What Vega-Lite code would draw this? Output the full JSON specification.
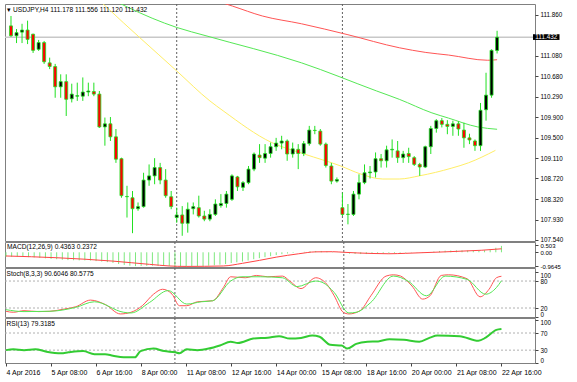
{
  "$schema": "https://vega.github.io/schema/vega-lite/v6.json",
  "padding": {"left": 3, "top": 3, "right": 0, "bottom": 0},
  "bounds": "flush",
  "spacing": 1,
  "background": "white",
  "config": {
    "font": "Liberation Sans",
    "view": {"stroke": "#808080", "strokeWidth": 1},
    "axis": {"labelFont": "Liberation Sans", "labelFontSize": 6.3, "labelColor": "#000", "tickColor": "#444", "tickSize": 3, "domain": false, "grid": false, "title": null, "labelPadding": 2, "labelOverlap": false, "labelFlush": false},
    "title": {"font": "Liberation Sans", "fontSize": 6.6, "fontWeight": "normal", "color": "#000", "anchor": "start", "offset": -10}
  },
  "datasets": {
    "candles": [
      {"i":0,"o":111.65,"h":111.84,"l":111.44,"c":111.46},
      {"i":1,"o":111.46,"h":111.59,"l":111.32,"c":111.52},
      {"i":2,"o":111.53,"h":111.69,"l":111.32,"c":111.57},
      {"i":3,"o":111.57,"h":111.75,"l":111.30,"c":111.39},
      {"i":4,"o":111.49,"h":111.50,"l":111.13,"c":111.18},
      {"i":5,"o":111.20,"h":111.38,"l":111.17,"c":111.33},
      {"i":6,"o":111.33,"h":111.36,"l":110.92,"c":110.96},
      {"i":7,"o":110.94,"h":111.04,"l":110.82,"c":110.87},
      {"i":8,"o":110.87,"h":110.92,"l":110.27,"c":110.48},
      {"i":9,"o":110.48,"h":110.72,"l":110.27,"c":110.58},
      {"i":10,"o":110.58,"h":110.72,"l":109.92,"c":110.24},
      {"i":11,"o":110.25,"h":110.54,"l":110.18,"c":110.34},
      {"i":12,"o":110.30,"h":110.56,"l":110.21,"c":110.31},
      {"i":13,"o":110.30,"h":110.66,"l":110.21,"c":110.38},
      {"i":14,"o":110.38,"h":110.56,"l":110.30,"c":110.40},
      {"i":15,"o":110.39,"h":110.56,"l":110.30,"c":110.34},
      {"i":16,"o":110.34,"h":110.40,"l":109.69,"c":109.71},
      {"i":17,"o":109.71,"h":109.89,"l":109.35,"c":109.77},
      {"i":18,"o":109.77,"h":109.90,"l":109.44,"c":109.52},
      {"i":19,"o":109.52,"h":109.67,"l":109.02,"c":109.09},
      {"i":20,"o":109.10,"h":109.12,"l":108.35,"c":108.39},
      {"i":21,"o":108.37,"h":108.58,"l":107.97,"c":108.375},
      {"i":22,"o":108.35,"h":108.48,"l":107.67,"c":108.14},
      {"i":23,"o":108.14,"h":108.26,"l":108.10,"c":108.18},
      {"i":24,"o":108.18,"h":108.83,"l":108.16,"c":108.69},
      {"i":25,"o":108.69,"h":108.99,"l":108.58,"c":108.77},
      {"i":26,"o":108.77,"h":109.11,"l":108.61,"c":108.93},
      {"i":27,"o":108.93,"h":109.02,"l":108.61,"c":108.69},
      {"i":28,"o":108.69,"h":108.90,"l":108.35,"c":108.39},
      {"i":29,"o":108.37,"h":108.48,"l":108.13,"c":108.18},
      {"i":30,"o":107.97,"h":108.16,"l":107.87,"c":108.02},
      {"i":31,"o":108.02,"h":108.19,"l":107.62,"c":107.86},
      {"i":32,"o":107.86,"h":108.26,"l":107.68,"c":108.13},
      {"i":33,"o":108.14,"h":108.26,"l":108.03,"c":108.18},
      {"i":34,"o":108.16,"h":108.39,"l":107.97,"c":108.00},
      {"i":35,"o":108.00,"h":108.10,"l":107.90,"c":107.94},
      {"i":36,"o":107.94,"h":108.13,"l":107.90,"c":108.03},
      {"i":37,"o":108.03,"h":108.32,"l":108.00,"c":108.23},
      {"i":38,"o":108.20,"h":108.42,"l":108.16,"c":108.24},
      {"i":39,"o":108.24,"h":108.48,"l":108.16,"c":108.42},
      {"i":40,"o":108.32,"h":108.80,"l":108.29,"c":108.77},
      {"i":41,"o":108.75,"h":108.77,"l":108.48,"c":108.56},
      {"i":42,"o":108.55,"h":108.67,"l":108.48,"c":108.64},
      {"i":43,"o":108.64,"h":108.96,"l":108.61,"c":108.90},
      {"i":44,"o":108.90,"h":109.22,"l":108.86,"c":109.19},
      {"i":45,"o":109.17,"h":109.38,"l":109.02,"c":109.12},
      {"i":46,"o":109.11,"h":109.38,"l":109.02,"c":109.20},
      {"i":47,"o":109.20,"h":109.41,"l":109.12,"c":109.33},
      {"i":48,"o":109.33,"h":109.50,"l":109.25,"c":109.40},
      {"i":49,"o":109.40,"h":109.54,"l":109.28,"c":109.44},
      {"i":50,"o":109.44,"h":109.47,"l":109.06,"c":109.19},
      {"i":51,"o":109.19,"h":109.41,"l":109.12,"c":109.29},
      {"i":52,"o":109.28,"h":109.38,"l":108.90,"c":109.20},
      {"i":53,"o":109.20,"h":109.44,"l":109.15,"c":109.39},
      {"i":54,"o":109.39,"h":109.73,"l":109.35,"c":109.65},
      {"i":55,"o":109.645,"h":109.73,"l":109.57,"c":109.64},
      {"i":56,"o":109.63,"h":109.67,"l":109.35,"c":109.38},
      {"i":57,"o":109.38,"h":109.41,"l":108.93,"c":108.97},
      {"i":58,"o":108.96,"h":109.02,"l":108.61,"c":108.67},
      {"i":59,"o":108.67,"h":108.74,"l":108.64,"c":108.70},
      {"i":60,"o":108.16,"h":108.45,"l":108.00,"c":108.03},
      {"i":61,"o":108.03,"h":108.23,"l":107.84,"c":108.035},
      {"i":62,"o":108.03,"h":108.48,"l":108.00,"c":108.42},
      {"i":63,"o":108.42,"h":108.80,"l":108.32,"c":108.64},
      {"i":64,"o":108.64,"h":108.99,"l":108.61,"c":108.83},
      {"i":65,"o":108.83,"h":108.96,"l":108.72,"c":108.845},
      {"i":66,"o":108.845,"h":109.22,"l":108.74,"c":109.10},
      {"i":67,"o":109.10,"h":109.19,"l":108.93,"c":109.06},
      {"i":68,"o":109.06,"h":109.35,"l":108.93,"c":109.27},
      {"i":69,"o":109.27,"h":109.47,"l":109.12,"c":109.28},
      {"i":70,"o":109.25,"h":109.44,"l":109.02,"c":109.12},
      {"i":71,"o":109.12,"h":109.25,"l":109.02,"c":109.19},
      {"i":72,"o":109.20,"h":109.31,"l":109.02,"c":109.14},
      {"i":73,"o":109.12,"h":109.15,"l":108.96,"c":108.99},
      {"i":74,"o":108.99,"h":109.02,"l":108.77,"c":108.94},
      {"i":75,"o":108.94,"h":109.35,"l":108.92,"c":109.33},
      {"i":76,"o":109.33,"h":109.73,"l":109.19,"c":109.68},
      {"i":77,"o":109.68,"h":109.86,"l":109.60,"c":109.83},
      {"i":78,"o":109.83,"h":109.88,"l":109.70,"c":109.76},
      {"i":79,"o":109.76,"h":109.84,"l":109.57,"c":109.72},
      {"i":80,"o":109.72,"h":109.83,"l":109.54,"c":109.77},
      {"i":81,"o":109.77,"h":109.82,"l":109.54,"c":109.67},
      {"i":82,"o":109.65,"h":109.79,"l":109.31,"c":109.50},
      {"i":83,"o":109.50,"h":109.58,"l":109.38,"c":109.46},
      {"i":84,"o":109.44,"h":109.47,"l":109.25,"c":109.35},
      {"i":85,"o":109.35,"h":110.17,"l":109.25,"c":110.03},
      {"i":86,"o":110.04,"h":110.75,"l":109.83,"c":110.32},
      {"i":87,"o":110.32,"h":111.20,"l":110.27,"c":111.18},
      {"i":88,"o":111.178,"h":111.556,"l":111.120,"c":111.432}
    ],
    "ma": [
      {"s":"ma200","i":37.5,"v":112.12},{"s":"ma200","i":40.1,"v":112.03},{"s":"ma200","i":45.5,"v":111.84},{"s":"ma200","i":52.6,"v":111.69},{"s":"ma200","i":61,"v":111.48},{"s":"ma200","i":70.3,"v":111.23},{"s":"ma200","i":75.1,"v":111.14},{"s":"ma200","i":79.2,"v":111.09},{"s":"ma200","i":86.3,"v":110.99},{"s":"ma200","i":88,"v":111.0},
      {"s":"ma100","i":19,"v":112.12},{"s":"ma100","i":21.1,"v":112.01},{"s":"ma100","i":30,"v":111.62},{"s":"ma100","i":35.3,"v":111.46},{"s":"ma100","i":52.6,"v":110.94},{"s":"ma100","i":66.2,"v":110.40},{"s":"ma100","i":70.3,"v":110.24},{"s":"ma100","i":76.2,"v":109.98},{"s":"ma100","i":79.2,"v":109.88},{"s":"ma100","i":84.5,"v":109.71},{"s":"ma100","i":88,"v":109.665},
      {"s":"ma50","i":16.2,"v":112.12},{"s":"ma50","i":17.1,"v":112.03},{"s":"ma50","i":30,"v":110.785},{"s":"ma50","i":36,"v":110.21},{"s":"ma50","i":38.4,"v":110.02},{"s":"ma50","i":47.2,"v":109.41},{"s":"ma50","i":53.1,"v":109.19},{"s":"ma50","i":59.7,"v":108.96},{"s":"ma50","i":63.2,"v":108.81},{"s":"ma50","i":67.3,"v":108.71},{"s":"ma50","i":70.3,"v":108.71},{"s":"ma50","i":73.9,"v":108.77},{"s":"ma50","i":79.8,"v":108.92},{"s":"ma50","i":82.8,"v":109.02},{"s":"ma50","i":87.7,"v":109.26}
    ],
    "macd": [
      {"i":0,"m":-0.30},{"i":1,"m":-0.30},{"i":2,"m":-0.29},{"i":3,"m":-0.30},{"i":4,"m":-0.33},{"i":5,"m":-0.35},{"i":6,"m":-0.38},{"i":7,"m":-0.41},{"i":8,"m":-0.45},{"i":9,"m":-0.47},
      {"i":10,"m":-0.51},{"i":11,"m":-0.53},{"i":12,"m":-0.54},{"i":13,"m":-0.55},{"i":14,"m":-0.55},{"i":15,"m":-0.56},{"i":16,"m":-0.60},{"i":17,"m":-0.63},{"i":18,"m":-0.67},{"i":19,"m":-0.72},
      {"i":20,"m":-0.80},{"i":21,"m":-0.86},{"i":22,"m":-0.91},{"i":23,"m":-0.94},{"i":24,"m":-0.93},{"i":25,"m":-0.92},{"i":26,"m":-0.91},{"i":27,"m":-0.90},{"i":28,"m":-0.91},{"i":29,"m":-0.93},
      {"i":30,"m":-0.95},{"i":31,"m":-0.9645},{"i":32,"m":-0.96},{"i":33,"m":-0.95},{"i":34,"m":-0.94},{"i":35,"m":-0.93},{"i":36,"m":-0.91},{"i":37,"m":-0.88},{"i":38,"m":-0.84},{"i":39,"m":-0.80},
      {"i":40,"m":-0.73},{"i":41,"m":-0.68},{"i":42,"m":-0.63},{"i":43,"m":-0.56},{"i":44,"m":-0.47},{"i":45,"m":-0.40},{"i":46,"m":-0.33},{"i":47,"m":-0.26},{"i":48,"m":-0.19},{"i":49,"m":-0.13},
      {"i":50,"m":-0.08},{"i":51,"m":-0.04},{"i":52,"m":0.00},{"i":53,"m":0.03},{"i":54,"m":0.07},{"i":55,"m":0.09},{"i":56,"m":0.09},{"i":57,"m":0.06},{"i":58,"m":0.02},{"i":59,"m":-0.01},
      {"i":60,"m":-0.05},{"i":61,"m":-0.09},{"i":62,"m":-0.11},{"i":63,"m":-0.12},{"i":64,"m":-0.12},{"i":65,"m":-0.11},{"i":66,"m":-0.09},{"i":67,"m":-0.08},{"i":68,"m":-0.06},{"i":69,"m":-0.05},
      {"i":70,"m":-0.04},{"i":71,"m":-0.03},{"i":72,"m":-0.02},{"i":73,"m":-0.02},{"i":74,"m":-0.02},{"i":75,"m":0.01},{"i":76,"m":0.05},{"i":77,"m":0.09},{"i":78,"m":0.11},{"i":79,"m":0.12},
      {"i":80,"m":0.13},{"i":81,"m":0.13},{"i":82,"m":0.12},{"i":83,"m":0.11},{"i":84,"m":0.09},{"i":85,"m":0.14},{"i":86,"m":0.19},{"i":87,"m":0.31},{"i":88,"m":0.4363}
    ],
    "macdsig": [
      {"i":0,"v":-0.25},{"i":9,"v":-0.37},{"i":19,"v":-0.6},{"i":25.5,"v":-0.82},{"i":29,"v":-0.93},{"i":32,"v":-0.96},{"i":38.6,"v":-0.93},{"i":42,"v":-0.75},{"i":45,"v":-0.55},{"i":48,"v":-0.33},{"i":52,"v":-0.1},{"i":55,"v":0.03},{"i":58,"v":0.04},{"i":60,"v":0.0},{"i":65,"v":-0.08},{"i":68,"v":-0.1},{"i":71,"v":-0.07},{"i":78,"v":0.03},{"i":81,"v":0.08},{"i":84.5,"v":0.14},{"i":88,"v":0.2372}
    ],
    "stoch": [
      {"s":"main","i":0,"v":12.7},{"s":"main","i":1.3,"v":10.5},{"s":"main","i":3.2,"v":14.1},{"s":"main","i":5.8,"v":12},{"s":"main","i":7.8,"v":12.7},{"s":"main","i":10.4,"v":17.8},{"s":"main","i":12.4,"v":22.9},{"s":"main","i":15,"v":37.6},{"s":"main","i":17.7,"v":27.3},{"s":"main","i":20.3,"v":6.8},{"s":"main","i":22.2,"v":10.5},{"s":"main","i":24.2,"v":25.1},{"s":"main","i":26.2,"v":50.7},{"s":"main","i":27.8,"v":61.7},{"s":"main","i":29.5,"v":50.7},{"s":"main","i":30.8,"v":25.1},{"s":"main","i":32.1,"v":25.1},{"s":"main","i":34,"v":33.9},{"s":"main","i":36.7,"v":36.1},{"s":"main","i":38.6,"v":65.4},{"s":"main","i":39.9,"v":89.5},{"s":"main","i":42.5,"v":87.3},{"s":"main","i":44.5,"v":92.4},{"s":"main","i":46.5,"v":89.5},{"s":"main","i":49.1,"v":91},{"s":"main","i":50.4,"v":80},{"s":"main","i":52.4,"v":63.2},{"s":"main","i":55,"v":87.3},{"s":"main","i":57,"v":72.7},{"s":"main","i":58.3,"v":47.1},{"s":"main","i":59.9,"v":10.5},{"s":"main","i":60.9,"v":6.8},{"s":"main","i":62.9,"v":14.1},{"s":"main","i":64.8,"v":47.1},{"s":"main","i":67.5,"v":91},{"s":"main","i":68.8,"v":93.9},{"s":"main","i":70.1,"v":91},{"s":"main","i":72.1,"v":69},{"s":"main","i":74,"v":39.8},{"s":"main","i":75.3,"v":47.1},{"s":"main","i":77.3,"v":92.4},{"s":"main","i":78.6,"v":93.9},{"s":"main","i":81.9,"v":85.1},{"s":"main","i":84.2,"v":44.9},{"s":"main","i":85.8,"v":61.7},{"s":"main","i":87.1,"v":87.3},{"s":"main","i":88,"v":90.6046},
      {"s":"signal","i":0,"v":16.3},{"s":"signal","i":3.2,"v":12},{"s":"signal","i":7.8,"v":12.7},{"s":"signal","i":12.4,"v":21.5},{"s":"signal","i":15.7,"v":33.9},{"s":"signal","i":20.9,"v":10.5},{"s":"signal","i":22.2,"v":9},{"s":"signal","i":25.5,"v":32.4},{"s":"signal","i":28.8,"v":58.8},{"s":"signal","i":32.1,"v":28.8},{"s":"signal","i":34.7,"v":33.9},{"s":"signal","i":36.7,"v":36.1},{"s":"signal","i":39.9,"v":80},{"s":"signal","i":41.9,"v":89.5},{"s":"signal","i":45.2,"v":89.5},{"s":"signal","i":49.1,"v":87.3},{"s":"signal","i":51.7,"v":67.6},{"s":"signal","i":55,"v":80},{"s":"signal","i":56.3,"v":76.3},{"s":"signal","i":58.3,"v":54.4},{"s":"signal","i":60.9,"v":9},{"s":"signal","i":62.2,"v":10.5},{"s":"signal","i":64.8,"v":32.4},{"s":"signal","i":68.8,"v":91},{"s":"signal","i":71.4,"v":80},{"s":"signal","i":74.7,"v":47.1},{"s":"signal","i":78,"v":91},{"s":"signal","i":81.9,"v":83.7},{"s":"signal","i":85.2,"v":50.7},{"s":"signal","i":87.1,"v":65.4},{"s":"signal","i":88,"v":80.5775}
    ],
    "rsi": [
      {"i":0,"v":30},{"i":1.3,"v":32.2},{"i":3.2,"v":30},{"i":5.2,"v":32.2},{"i":7.2,"v":26.4},{"i":9.8,"v":22.7},{"i":11.1,"v":24.9},{"i":13.7,"v":27.8},{"i":15.7,"v":20.5},{"i":17.6,"v":20.5},{"i":19,"v":16.9},{"i":20.9,"v":13.3},{"i":22.9,"v":13.3},{"i":23.9,"v":27.8},{"i":26.2,"v":33.6},{"i":28.1,"v":27.8},{"i":30.1,"v":24.9},{"i":30.8,"v":22.7},{"i":32.1,"v":32.2},{"i":34,"v":30},{"i":36,"v":33.6},{"i":38,"v":40.9},{"i":39.9,"v":49.6},{"i":41.2,"v":46.7},{"i":43.9,"v":56.9},{"i":46.5,"v":59.1},{"i":48.5,"v":62.7},{"i":50.4,"v":56.9},{"i":52.4,"v":58.4},{"i":54.4,"v":64.2},{"i":55.7,"v":61.3},{"i":57.6,"v":42.4},{"i":59.6,"v":40.9},{"i":60.6,"v":33.6},{"i":62.2,"v":44.5},{"i":64.2,"v":49.6},{"i":66.1,"v":50.4},{"i":68.1,"v":55.5},{"i":70.7,"v":54},{"i":73.4,"v":49.6},{"i":75.3,"v":59.1},{"i":76.6,"v":64.2},{"i":80.6,"v":62.7},{"i":83.9,"v":51.8},{"i":85.2,"v":59.1},{"i":87.1,"v":77.3},{"i":88,"v":79.3185}
    ],
    "seps": [{"i":30},{"i":60}]
  },
  "vconcat": [
    {
      "width": 530, "height": 237,
      "title": {"text": "▾ USDJPY,H4  111.178 111.556 111.120 111.432", "dx": 3},
      "layer": [
        {"data": {"values": [{"p": 111.432}]}, "mark": {"type": "rule", "color": "#c8c8c8", "strokeWidth": 1.5},
         "encoding": {"y": {"field": "p", "type": "quantitative", "scale": {"domain": [107.52, 112.07], "nice": false, "zero": false}, "axis": {"orient": "right", "tickCount": 50, "values": [111.86,111.08,110.68,110.29,109.90,109.50,109.11,108.72,108.32,107.93,107.54], "format": ".3f"}}}},
        {"data": {"name": "seps"}, "mark": {"type": "rule", "color": "#606060", "strokeDash": [2,2], "strokeWidth": 1},
         "encoding": {"x": {"field": "i", "type": "quantitative", "scale": {"domain": [-0.18, 93.96], "nice": false, "zero": false}, "axis": null}}},
        {"data": {"name": "ma"}, "mark": {"type": "line", "clip": true, "strokeWidth": 1, "interpolate": "monotone"},
         "encoding": {"x": {"field": "i", "type": "quantitative"}, "y": {"field": "v", "type": "quantitative"},
           "color": {"field": "s", "type": "nominal", "scale": {"domain": ["ma200","ma100","ma50"], "range": ["#ff5555","#55e855","#ffee66"]}, "legend": null}}},
        {"data": {"name": "candles"}, "mark": {"type": "rule", "color": "#22e022", "strokeWidth": 1},
         "encoding": {"x": {"field": "i", "type": "quantitative"}, "y": {"field": "l", "type": "quantitative"}, "y2": {"field": "h"}}},
        {"data": {"name": "candles"}, "mark": {"type": "bar", "orient": "vertical", "size": 3, "stroke": "#22e022", "strokeWidth": 0.8},
         "encoding": {"x": {"field": "i", "type": "quantitative"}, "y": {"field": "o", "type": "quantitative"}, "y2": {"field": "c"},
           "fill": {"condition": {"test": "datum.c >= datum.o", "value": "#000000"}, "value": "#ff0000"}}},
        {"data": {"values": [{"p": 111.432}]}, "mark": {"type": "rect", "color": "#000000", "clip": false},
         "encoding": {"x": {"datum": 94.5}, "x2": {"datum": 99.3}, "y": {"datum": 111.49}, "y2": {"datum": 111.38}}},
        {"data": {"values": [{"p": 111.432}]}, "mark": {"type": "text", "color": "#ffffff", "clip": false, "fontSize": 6.3, "align": "center", "baseline": "middle"},
         "encoding": {"x": {"datum": 96.9}, "y": {"field": "p", "type": "quantitative"}, "text": {"field": "p", "type": "quantitative", "format": ".3f"}}}
      ]
    },
    {
      "width": 530, "height": 25,
      "title": {"text": "MACD(12,26,9) 0.4363 0.2372", "dx": 2, "offset": -9},
      "layer": [
        {"data": {"name": "seps"}, "mark": {"type": "rule", "color": "#606060", "strokeDash": [2,2]},
         "encoding": {"x": {"field": "i", "type": "quantitative", "scale": {"domain": [-0.18, 93.96], "nice": false, "zero": false}, "axis": null}}},
        {"data": {"name": "macd"}, "mark": {"type": "rule", "color": "#7ee87e", "strokeWidth": 1},
         "encoding": {"x": {"field": "i", "type": "quantitative"}, "y": {"field": "m", "type": "quantitative", "scale": {"domain": [-1.0, 0.7], "nice": false, "zero": false},
           "axis": {"orient": "right", "tickCount": 50, "values": [0.503, 0, -0.9645], "labelFontSize": 6, "labelExpr": "datum.value == 0 ? '0.00' : (datum.value > 0 ? '0.503' : '-0.9645')", "labelOffset": {"condition": {"test": "datum.value > 0.1", "value": 1}, "value": 0}}}, "y2": {"datum": 0}}},
        {"data": {"name": "macdsig"}, "mark": {"type": "line", "color": "#ff4444", "strokeWidth": 1, "interpolate": "monotone", "clip": true},
         "encoding": {"x": {"field": "i", "type": "quantitative"}, "y": {"field": "v", "type": "quantitative"}}}
      ]
    },
    {
      "width": 530, "height": 49,
      "title": {"text": "Stoch(8,3,3) 90.6046 80.5775", "dx": 2, "offset": -10},
      "layer": [
        {"data": {"name": "seps"}, "mark": {"type": "rule", "color": "#606060", "strokeDash": [2,2]},
         "encoding": {"x": {"field": "i", "type": "quantitative", "scale": {"domain": [-0.18, 93.96], "nice": false, "zero": false}, "axis": null}}},
        {"data": {"values": [{"lv": 80}, {"lv": 20}]}, "mark": {"type": "rule", "color": "#b0b0b0", "strokeDash": [2,2]},
         "encoding": {"y": {"field": "lv", "type": "quantitative", "scale": {"domain": [0, 109], "nice": false, "zero": false},
           "axis": {"orient": "right", "tickCount": 50, "values": [100, 80, 20, 0], "labelOffset": {"condition": [{"test": "datum.value == 100", "value": 3}, {"test": "datum.value == 0", "value": -3}], "value": 0}}}}},
        {"data": {"name": "stoch"}, "mark": {"type": "line", "strokeWidth": 1, "interpolate": "monotone", "clip": true},
         "encoding": {"x": {"field": "i", "type": "quantitative"}, "y": {"field": "v", "type": "quantitative"},
           "color": {"field": "s", "type": "nominal", "scale": {"domain": ["main","signal"], "range": ["#44e044","#ff4444"]}, "legend": null}}}
      ]
    },
    {
      "width": 530, "height": 45,
      "title": {"text": "RSI(13) 79.3185", "dx": 2, "offset": -10},
      "layer": [
        {"data": {"name": "seps"}, "mark": {"type": "rule", "color": "#606060", "strokeDash": [2,2]},
         "encoding": {"x": {"field": "i", "type": "quantitative", "scale": {"domain": [-0.18, 93.96], "nice": false, "zero": false},
           "axis": {"orient": "bottom", "tickCount": 50, "values": [0,8,16,24,32,40,48,56,64,72,80,88], "labelExpr": "['4 Apr 2016','5 Apr 08:00','6 Apr 16:00','8 Apr 00:00','11 Apr 08:00','12 Apr 16:00','14 Apr 00:00','15 Apr 08:00','18 Apr 16:00','20 Apr 00:00','21 Apr 08:00','22 Apr 16:00'][round(datum.value/8)]", "labelAlign": "left", "labelFontSize": 7, "labelDx": 1, "labelPadding": 2}}}},
        {"data": {"values": [{"lv": 70}, {"lv": 30}]}, "mark": {"type": "rule", "color": "#b0b0b0", "strokeDash": [2,2]},
         "encoding": {"y": {"field": "lv", "type": "quantitative", "scale": {"domain": [0, 105], "nice": false, "zero": false},
           "axis": {"orient": "right", "tickCount": 50, "values": [100, 70, 30, 0], "labelOffset": {"condition": [{"test": "datum.value == 100", "value": 2}, {"test": "datum.value == 0", "value": -3}], "value": 0}}}}},
        {"data": {"name": "rsi"}, "mark": {"type": "line", "color": "#33cc33", "strokeWidth": 2, "interpolate": "monotone", "clip": true},
         "encoding": {"x": {"field": "i", "type": "quantitative"}, "y": {"field": "v", "type": "quantitative"}}}
      ]
    }
  ]
}
